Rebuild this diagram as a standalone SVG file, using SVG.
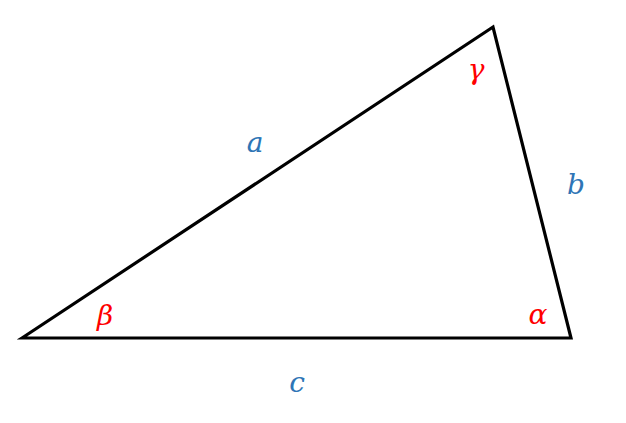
<svg xmlns="http://www.w3.org/2000/svg" width="626" height="423" viewBox="0 0 626 423">
<style>
.side{font-family:"DejaVu Serif","Liberation Serif",serif;font-style:italic;font-size:28px;fill:#2e75b6;text-anchor:middle}
.ang{font-family:"DejaVu Serif","Liberation Serif",serif;font-style:italic;font-size:28px;fill:#ff0000;text-anchor:middle}
</style>
<rect width="626" height="423" fill="#ffffff"/>
<g id="connectors">
<polygon points="22,338 493,27 571,338" fill="none" stroke="#000000" stroke-width="3.2" stroke-linejoin="miter"/>
</g>
<g id="label-a"><text class="side" x="255" y="152">a</text></g>
<g id="label-b"><text class="side" x="576" y="194">b</text></g>
<g id="label-c"><text class="side" x="297" y="392">c</text></g>
<g id="angle-gamma"><text class="ang" x="476" y="79">γ</text></g>
<g id="angle-beta"><text class="ang" x="105" y="325">β</text></g>
<g id="angle-alpha"><text class="ang" x="538" y="324">α</text></g>
</svg>
